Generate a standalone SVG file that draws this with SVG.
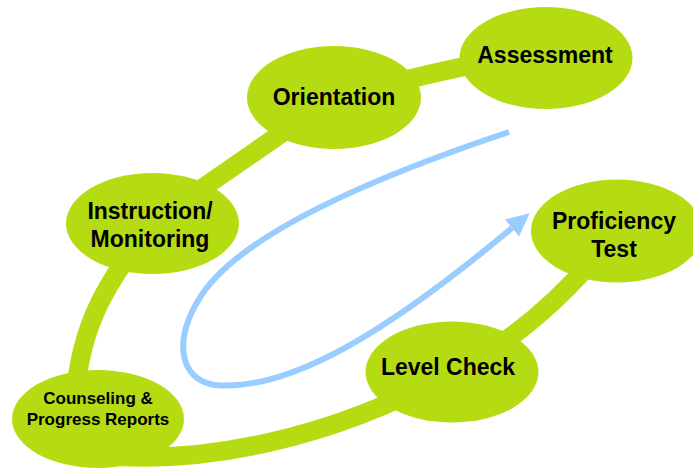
<svg xmlns="http://www.w3.org/2000/svg" width="693" height="472" viewBox="0 0 693 472">
<style>
.node{fill:#B5DC13}
.lbl{font-family:"Liberation Sans",Arial,sans-serif;font-weight:bold;font-size:23px;fill:#000;text-anchor:middle}
.sm{font-size:17px}
.track{fill:none;stroke:#B5DC13;stroke-width:19}
.flow{fill:none;stroke:#99CCFF;stroke-width:6}
</style>
<defs>
<marker id="ah" markerUnits="userSpaceOnUse" markerWidth="24" markerHeight="24" viewBox="0 -12 24 24" refX="0" refY="0" orient="auto">
<path d="M0,-11 L23,0 L0,11 Z" fill="#99CCFF"/>
</marker>
</defs>
<rect width="693" height="472" fill="#fff"/>
<g id="connectors">
<path class="track" d="M334,100 Q400,78 546,50"/>
<path class="track" d="M334,97 L152,223"/>
<path class="track" d="M152,223 C110,280 80,320 75,400"/>
<path class="track" d="M100,455 C200,465 330,440 452,372"/>
<path class="track" d="M452,372 Q540,330 617,231"/>
<path class="flow" d="M509,132 C380,175 250,230 205,290 C170,340 180,380 215,385 C290,392 390,330 512,228" marker-end="url(#ah)"/>
</g>
<g id="assessment">
<ellipse class="node" cx="546" cy="58" rx="86.5" ry="51"/>
<text class="lbl" x="545" y="63">Assessment</text>
</g>
<g id="orientation">
<ellipse class="node" cx="334" cy="97.5" rx="87" ry="51.5"/>
<text class="lbl" x="334" y="105">Orientation</text>
</g>
<g id="instruction">
<ellipse class="node" cx="152.5" cy="223.5" rx="86.5" ry="50.5"/>
<text class="lbl" x="150" y="219">Instruction/</text>
<text class="lbl" x="150" y="247">Monitoring</text>
</g>
<g id="counseling">
<ellipse class="node" cx="98" cy="419" rx="86" ry="49"/>
<text class="lbl sm" x="98" y="404">Counseling &amp;</text>
<text class="lbl sm" x="98" y="425">Progress Reports</text>
</g>
<g id="levelcheck">
<ellipse class="node" cx="452" cy="372" rx="86.5" ry="50.5"/>
<text class="lbl" x="448" y="375">Level Check</text>
</g>
<g id="proficiency">
<ellipse class="node" cx="617" cy="231" rx="86" ry="51.5"/>
<text class="lbl" x="614" y="229">Proficiency</text>
<text class="lbl" x="614" y="257">Test</text>
</g>
</svg>
